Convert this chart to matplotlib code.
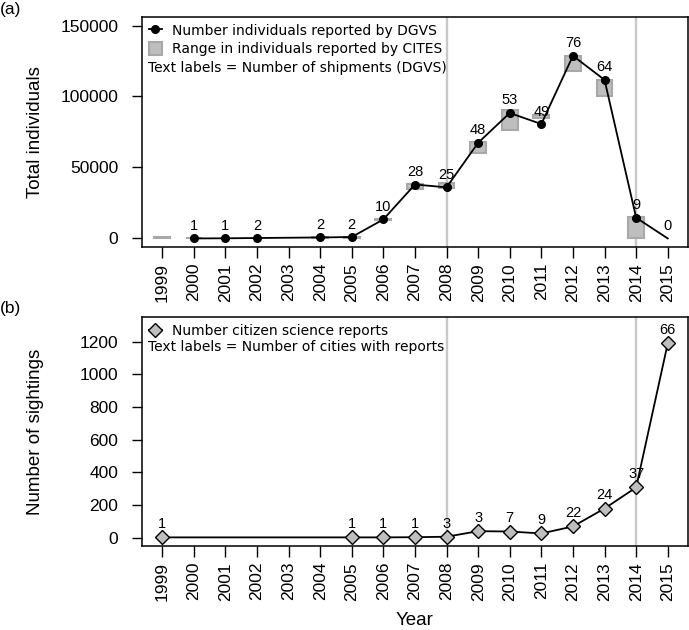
import numpy as np
import matplotlib.pyplot as plt
from matplotlib.lines import Line2D
from matplotlib.patches import Patch

# panel (a): DGVS and CITES trade data
dgvs_years = [2000, 2001, 2002, 2004, 2005, 2006, 2007, 2008, 2009, 2010, 2011, 2012, 2013, 2014, 2015]
dgvs_ind = [0, 100, 300, 700, 1000, 13400, 38000, 36000, 67400, 88400, 80600, 128700, 111700, 14600, 0]
shipments = [1, 1, 2, 2, 2, 10, 28, 25, 48, 53, 49, 76, 64, 9, 0]

cites_years = [1999, 2000, 2004, 2005, 2006, 2007, 2008, 2009, 2010, 2011, 2012, 2013, 2014]
cites_low = [600, 0, 300, 600, 12800, 34500, 35800, 60300, 76400, 85000, 118300, 100400, 0]
cites_high = [1200, 400, 900, 1300, 13900, 38200, 39100, 67700, 90500, 86700, 128700, 111700, 15000]

# panel (b): citizen science
cs_years = [1999, 2005, 2006, 2007, 2008, 2009, 2010, 2011, 2012, 2013, 2014, 2015]
sightings = [1, 1, 1, 2, 5, 39, 37, 25, 68, 178, 307, 1190]
cities = [1, 1, 1, 1, 3, 3, 7, 9, 22, 24, 37, 66]

all_years = list(range(1999, 2016))
ref_years = [2008, 2014]

tick_font = 'Liberation Sans'
leg_font = 'DejaVu Sans'
grey = '#bebebe'

fig = plt.figure(figsize=(6.89, 6.3), dpi=100)
ax1 = fig.add_axes([0.206, 0.608, 0.7925, 0.365])
ax2 = fig.add_axes([0.206, 0.1333, 0.7925, 0.3635])


def style(ax, ylab):
    ax.set_xlim(1998.36, 2015.64)
    ax.set_xticks(all_years)
    ax.set_xticklabels([str(y) for y in all_years], rotation=90, fontsize=12.5, family=tick_font)
    for lab in ax.get_yticklabels():
        lab.set_fontsize(12.5)
        lab.set_family(tick_font)
    ax.tick_params(axis='x', length=8, width=1.0, pad=3.5)
    ax.tick_params(axis='y', length=7.5, width=1.0, pad=9.5)
    for s in ax.spines.values():
        s.set_linewidth(1.1)
    ax.set_ylabel(ylab, fontsize=13.5, family=tick_font)
    ax.yaxis.set_label_coords(-0.18, 0.5)
    for y in ref_years:
        ax.axvline(y, color='#c8c8c8', lw=1.7, zorder=0)


# (a)
ax1.set_ylim(-6000, 156000)
ax1.set_yticks([0, 50000, 100000, 150000])
ax1.bar(cites_years, np.array(cites_high) - np.array(cites_low), bottom=cites_low, width=0.5,
        color=grey, edgecolor='#a8a8a8', lw=1.5, zorder=1)
ax1.plot(dgvs_years, dgvs_ind, color='black', lw=1.3, zorder=2)
ax1.plot(dgvs_years[:-1], dgvs_ind[:-1], 'o', color='black', ms=5.5, zorder=3)
for x, y, n in zip(dgvs_years, dgvs_ind, shipments):
    ax1.annotate(str(n), (x, y), xytext=(0, 9), textcoords='offset points',
                 ha='center', va='center', fontsize=10.5, family=tick_font)
style(ax1, 'Total individuals')
h1 = [Line2D([], [], color='black', marker='o', ms=5.5, lw=1.3),
      Patch(facecolor=grey, edgecolor='#a8a8a8', lw=1.5)]
ax1.legend(h1, ['Number individuals reported by DGVS', 'Range in individuals reported by CITES'],
           loc='upper left', frameon=False, prop={'family': leg_font, 'size': 10},
           handlelength=0.95, handleheight=1.0, handletextpad=0.7, labelspacing=0.3,
           borderaxespad=0.1, borderpad=0.4)
ax1.text(0.011, 0.78, 'Text labels = Number of shipments (DGVS)', transform=ax1.transAxes,
         ha='left', va='center', fontsize=10, family=leg_font)
fig.text(0.0, 0.985, '(a)', fontsize=12.5, family=tick_font, ha='left', va='center')

# (b)
ax2.set_ylim(-52, 1352)
ax2.set_yticks(range(0, 1201, 200))
ax2.plot(cs_years, sightings, color='black', lw=1.3, marker='D', ms=7,
         mfc=grey, mec='black', mew=1.0, zorder=3)
for x, y, n in zip(cs_years, sightings, cities):
    ax2.annotate(str(n), (x, y), xytext=(0, 9.5), textcoords='offset points',
                 ha='center', va='center', fontsize=10.5, family=tick_font)
style(ax2, 'Number of sightings')
h2 = [Line2D([], [], color='black', marker='D', ms=7, mfc=grey, mec='black', mew=1.0, lw=1.3)]
ax2.legend(h2, ['Number citizen science reports'], loc='upper left', frameon=False,
           prop={'family': leg_font, 'size': 10}, handlelength=0.95, handletextpad=0.7,
           borderaxespad=0.1, borderpad=0.4)
ax2.text(0.011, 0.868, 'Text labels = Number of cities with reports', transform=ax2.transAxes,
         ha='left', va='center', fontsize=10, family=leg_font)
ax2.set_xlabel('Year', fontsize=13.5, family=tick_font)
ax2.xaxis.set_label_coords(0.5, -0.29)
fig.text(0.0, 0.511, '(b)', fontsize=12.5, family=tick_font, ha='left', va='center')

fig.savefig('out.png', dpi=100)
